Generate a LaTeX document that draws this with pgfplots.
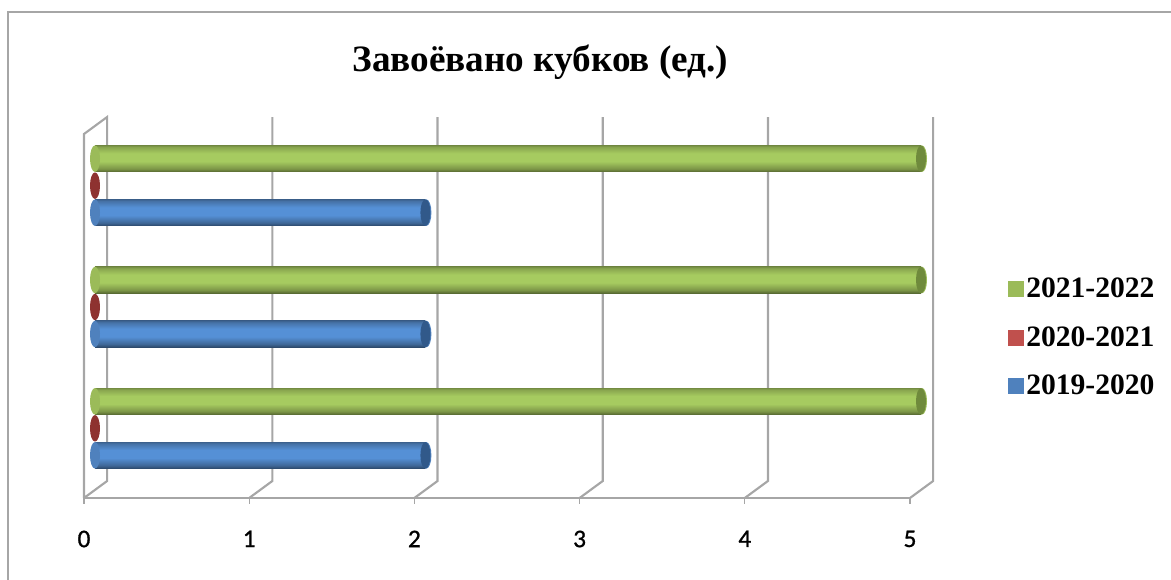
\documentclass[border=0pt]{standalone}
\usepackage{fontspec}
\setmainfont{Liberation Serif}
\newfontfamily\tickfont[FakeBold=1]{Carlito}
\usepackage{pgfplots}
\pgfplotsset{compat=1.18}

% 1 reference pixel = 0.75pt, sizes below are px*0.75

\definecolor{gridgray}{HTML}{A6A6A6}
\definecolor{greenleg}{HTML}{9BBB59}
\definecolor{redleg}{HTML}{C0504D}
\definecolor{blueleg}{HTML}{4F81BD}
\definecolor{greencap}{HTML}{6F8A3C}
\definecolor{redcap}{HTML}{8E3230}
\definecolor{bluecap}{HTML}{31598A}
\definecolor{greenend}{HTML}{A6CB60}
\definecolor{blueend}{HTML}{5590D6}

\pgfdeclareverticalshading{greencyl}{100bp}{
  color(0bp)=(black!45!greenleg);
  color(25bp)=(black!45!greenleg);
  color(31bp)=(black!20!greenleg);
  color(45bp)=(greenend);
  color(60bp)=(greenend);
  color(72bp)=(black!12!greenleg);
  color(75bp)=(black!25!greenleg);
  color(100bp)=(black!25!greenleg)}
\pgfdeclareverticalshading{bluecyl}{100bp}{
  color(0bp)=(black!45!blueleg);
  color(25bp)=(black!45!blueleg);
  color(31bp)=(black!20!blueleg);
  color(45bp)=(blueend);
  color(60bp)=(blueend);
  color(72bp)=(black!12!blueleg);
  color(75bp)=(black!25!blueleg);
  color(100bp)=(black!25!blueleg)}

% flat end of a lying cylinder
\pgfdeclareplotmark{capend}{%
  \pgfpathellipse{\pgfpointorigin}{\pgfqpoint{3.75pt}{0pt}}{\pgfqpoint{0pt}{9.95pt}}%
  \pgfusepathqfill}

\begin{document}
\begin{tikzpicture}
\useasboundingbox (0,0) rectangle (878.25pt,435pt);
% outer chart frame
\draw[gridgray,line width=1.4pt] (6pt,0) -- (6pt,426pt) -- (878.25pt,426pt);
\begin{axis}[
    at={(63pt,61.5pt)},
    anchor=south west,
    scale only axis,
    width=619.5pt,
    height=273pt,
    xmin=0, xmax=5,
    ymin=0.5, ymax=3.5,
    clip=false,
    axis y line=none,
    axis x line*=bottom,
    axis line style={draw=gridgray,line width=1.4pt,-},
    xtick={0,1,2,3,4,5},
    xtick style={draw=gridgray,line width=1pt},
    tick align=outside,
    major tick length=4.5pt,
    ytick=\empty,
    xticklabel style={font=\tickfont\fontsize{19pt}{21pt}\selectfont,text=black,yshift=-16.5pt},
    /pgf/number format/assume math mode=true,
    title={\bfseries\fontsize{27.9pt}{30pt}\selectfont Завоёвано кубков (ед.)},
    title style={at={(0.5525,1)},anchor=center,yshift=48pt},
    legend style={at={(1.1188,0.441)},anchor=west,
        draw=none,fill=none,inner sep=0pt,outer sep=0pt,
        font=\bfseries\fontsize{22.2pt}{24pt}\selectfont,
        row sep=16pt},
    legend cell align=left,
    legend image code/.code={\fill[#1] (0pt,-5.6pt) rectangle (11.2pt,5.6pt);},
]
% walls and gridlines, back wall is 23px right and 17px up of the front plane
\pgfplotsset{wall/.style={draw=gridgray,line width=1.6pt,forget plot}}
\addplot[wall] coordinates {(0,0.5) (0,3.5) (0.14,3.64) (0.14,0.64) (0,0.5)};
\addplot[wall] coordinates {(1,0.5) (1.14,0.64) (1.14,3.64)};
\addplot[wall] coordinates {(2,0.5) (2.14,0.64) (2.14,3.64)};
\addplot[wall] coordinates {(3,0.5) (3.14,0.64) (3.14,3.64)};
\addplot[wall] coordinates {(4,0.5) (4.14,0.64) (4.14,3.64)};
\addplot[wall] coordinates {(5,0.5) (5.14,0.64) (5.14,3.64)};

\pgfplotsset{capplot/.style={only marks,mark=capend,xshift=8.25pt,forget plot}}
% rounded near ends and a rim behind the far ends, under the bars
\addplot[capplot,yshift=-13.5pt,mark options={blueleg}] coordinates {(0,1) (0,2) (0,3)};
\addplot[capplot,yshift=27pt,mark options={greenleg}] coordinates {(0,1) (0,2) (0,3)};
\addplot[capplot,xshift=0.75pt,yshift=-13.5pt,mark options={blueleg}] coordinates {(2,1) (2,2) (2,3)};
\addplot[capplot,xshift=0.75pt,yshift=27pt,mark options={greenleg}] coordinates {(5,1) (5,2) (5,3)};

% bars, one plot each so that the shading fits one bar
\pgfplotsset{cyl/.style={xbar,bar width=19.9pt,xshift=8.25pt,yshift=6.75pt,forget plot,draw=none}}
\addplot[cyl,bar shift=-20.25pt,shading=bluecyl] coordinates {(2,1)};
\addplot[cyl,bar shift=20.25pt,shading=greencyl] coordinates {(5,1)};
\addplot[cyl,bar shift=-20.25pt,shading=bluecyl] coordinates {(2,2)};
\addplot[cyl,bar shift=20.25pt,shading=greencyl] coordinates {(5,2)};
\addplot[cyl,bar shift=-20.25pt,shading=bluecyl] coordinates {(2,3)};
\addplot[cyl,bar shift=20.25pt,shading=greencyl] coordinates {(5,3)};

% dark far ends; the 2020-2021 series is 0, so only its end shows
\addplot[capplot,yshift=-13.5pt,mark options={bluecap}] coordinates {(2,1) (2,2) (2,3)};
\addplot[capplot,yshift=27pt,mark options={greencap}] coordinates {(5,1) (5,2) (5,3)};
\addplot[capplot,yshift=6.75pt,mark options={redcap}] coordinates {(0,1) (0,2) (0,3)};

\addlegendimage{greenleg}\addlegendentry{2021-2022}
\addlegendimage{redleg}\addlegendentry{2020-2021}
\addlegendimage{blueleg}\addlegendentry{2019-2020}
\end{axis}
\end{tikzpicture}
\end{document}
